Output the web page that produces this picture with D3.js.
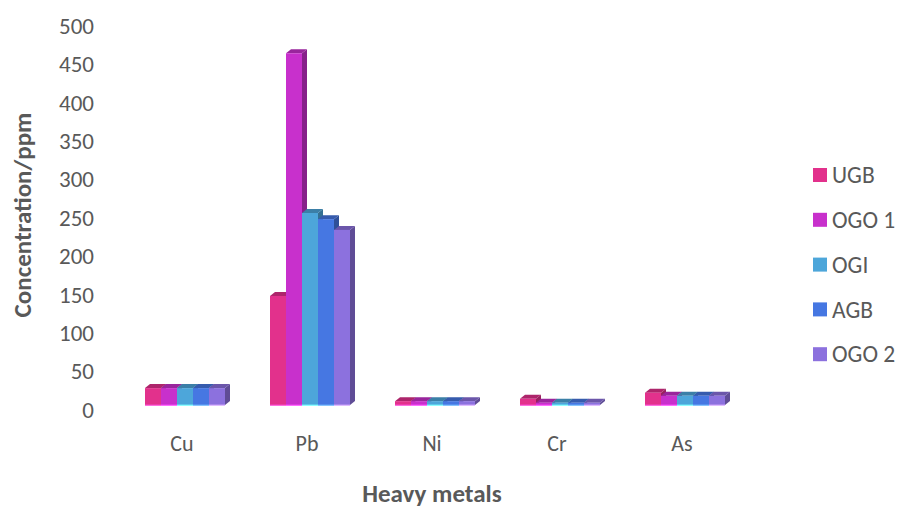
<!DOCTYPE html>
<html>
<head>
<meta charset="utf-8">
<script src="https://cdn.jsdelivr.net/npm/d3@7"></script>
<style>
  html, body { margin: 0; padding: 0; background: #fff; }
  svg { display: block; }
  text { font-family: Carlito, Calibri, Lato, "Open Sans", sans-serif; fill: #595959; }
</style>
</head>
<body>
<svg id="chart" width="898" height="510"></svg>
<script>
// Heavy metal concentrations (ppm) per site
const categories = ["Cu", "Pb", "Ni", "Cr", "As"];
const seriesNames = ["UGB", "OGO 1", "OGI", "AGB", "OGO 2"];
const UGB  = [22, 142, 5, 8, 16];
const OGO1 = [22, 458, 5, 3, 12];
const OGI  = [22, 250, 5, 3, 12];
const AGB  = [22, 242, 5, 3, 12];
const OGO2 = [22, 228, 5, 3, 12];
const yTicks = [0, 50, 100, 150, 200, 250, 300, 350, 400, 450, 500];
const colors = ["#E2318C", "#C830CC", "#4DA6DA", "#4677E2", "#8C71DE"];

const seriesValues = [UGB, OGO1, OGI, AGB, OGO2];
const fontStack = "Carlito, Calibri, Lato, 'Open Sans', sans-serif";

const svg = d3.select("#chart");

const x = d3.scaleBand().domain(categories).range([122.5, 747.5]).padding(0);
const groupWidth = 80;
const x1 = d3.scaleBand().domain(seriesNames)
  .range([(x.bandwidth() - groupWidth) / 2, (x.bandwidth() + groupWidth) / 2]);
const y = d3.scaleLinear().domain([0, 500]).range([405, 21]);
const color = d3.scaleOrdinal().domain(seriesNames).range(colors);

// depth of the 3-D columns
const dx = 5, dy = 4;

const rows = [];
categories.forEach((c, ci) => {
  seriesNames.forEach((s, si) => {
    rows.push({ cat: c, series: s, value: seriesValues[si][ci] });
  });
});

const bars = svg.append("g").attr("class", "bars");

rows.forEach(d => {
  const x0 = x(d.cat) + x1(d.series);
  const w = x1.bandwidth();
  const yt = y(d.value);
  const yb = y(0);
  const base = d3.color(color(d.series));
  const g = bars.append("g");
  // right side face
  g.append("path")
    .attr("d", `M${x0 + w},${yt} L${x0 + w + dx},${yt - dy} L${x0 + w + dx},${yb - dy} L${x0 + w},${yb} Z`)
    .attr("fill", base.darker(1.1));
  // top face
  g.append("path")
    .attr("d", `M${x0},${yt} L${x0 + dx},${yt - dy} L${x0 + w + dx},${yt - dy} L${x0 + w},${yt} Z`)
    .attr("fill", base.darker(0.75));
  // front face
  g.append("rect")
    .attr("x", x0).attr("y", yt)
    .attr("width", w).attr("height", yb - yt)
    .attr("fill", base);
  // light base edge
  g.append("rect")
    .attr("x", x0).attr("y", yb - 0.5)
    .attr("width", w).attr("height", 1.5)
    .attr("fill", base.brighter(1.2))
    .attr("opacity", 0.8);
});

// value axis
const yAxis = svg.append("g")
  .attr("transform", "translate(100,5)")
  .call(d3.axisLeft(y).tickValues(yTicks).tickSize(0).tickPadding(6));
yAxis.select(".domain").remove();
yAxis.selectAll("text")
  .style("font-size", "23px")
  .style("fill", "#595959")
  .style("font-family", fontStack);

// category axis
const xAxis = svg.append("g")
  .attr("transform", "translate(-3,435)")
  .call(d3.axisBottom(x).tickSize(0).tickPadding(0));
xAxis.select(".domain").remove();
xAxis.selectAll("text")
  .style("font-size", "22px")
  .style("fill", "#595959")
  .style("font-family", fontStack);

// axis titles
svg.append("text")
  .attr("x", 432).attr("y", 502)
  .attr("text-anchor", "middle")
  .style("font-size", "25px").style("font-weight", "bold")
  .text("Heavy metals");

svg.append("text")
  .attr("transform", "translate(31,215) rotate(-90)")
  .attr("text-anchor", "middle")
  .style("font-size", "25px").style("font-weight", "bold")
  .text("Concentration/ppm");

// legend
const legend = svg.append("g").attr("transform", "translate(813,175)");
seriesNames.forEach((s, i) => {
  const item = legend.append("g").attr("transform", `translate(0,${i * 44.8})`);
  item.append("rect")
    .attr("x", 0).attr("y", -7)
    .attr("width", 14).attr("height", 14)
    .attr("fill", color(s));
  item.append("text")
    .attr("x", 19).attr("y", 0)
    .attr("dy", "0.35em")
    .style("font-size", "23.5px")
    .text(s);
});
</script>
</body>
</html>
